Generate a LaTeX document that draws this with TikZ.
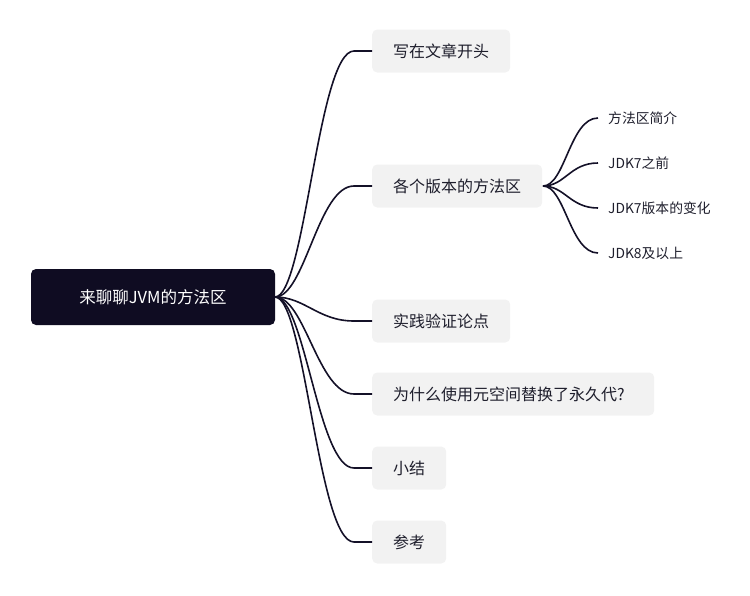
\documentclass[tikz,border=0pt]{standalone}
\usepackage{fontspec}
\setmainfont{Noto Sans CJK SC}
\definecolor{rootbg}{HTML}{0F0C22}
\definecolor{leafbg}{HTML}{F2F2F2}
\definecolor{txt}{HTML}{1E1E2C}
\definecolor{edge}{HTML}{141128}
\begin{document}
\begin{tikzpicture}[x=1pt,y=-1pt,
  rootbox/.style={fill=rootbg,text=white,rounded corners=5pt,minimum width=244pt,minimum height=56pt,font=\fontsize{16.5}{18}\selectfont,inner sep=0pt},
  kid/.style={fill=leafbg,text=txt,rounded corners=5pt,minimum height=43pt,inner xsep=21pt,anchor=west,font=\fontsize{16}{18}\selectfont},
  sub/.style={text=txt,anchor=west,inner sep=0pt,font=\fontsize{13.8}{15}\selectfont},
  link/.style={draw=edge,line width=1.6pt}]
\useasboundingbox (0,0) rectangle (750,595);
\node[rootbox] (root) at (153,297) {来聊聊JVM的方法区};
\coordinate (rs) at (275,297);
\node[kid] (k1) at (372,51) {写在文章开头};
\node[kid] (k2) at (372,186) {各个版本的方法区};
\node[kid] (k3) at (372,321) {实践验证论点};
\node[kid,minimum width=282pt,align=left,text width=240pt] (k4) at (372,394) {为什么使用元空间替换了永久代?};
\node[kid] (k5) at (372,468) {小结};
\node[kid] (k6) at (372,542) {参考};
\foreach \k in {k1,k2,k3,k4,k5,k6}{
  \draw[link] (rs) .. controls (305,297) and (318,297 |- \k.west) .. ([xshift=-18pt]\k.west) -- (\k.west);
}
\node[sub] (s1) at (608,118) {方法区简介};
\node[sub] (s2) at (608,163) {JDK7之前};
\node[sub] (s3) at (608,208) {JDK7版本的变化};
\node[sub] (s4) at (608,253) {JDK8及以上};
\coordinate (ks) at (543,186);
\foreach \s in {s1,s2,s3,s4}{
  \draw[link] (ks) .. controls (565,186) and (570,186 |- \s.west) .. ([xshift=-10pt]\s.west);
}
\end{tikzpicture}
\end{document}
